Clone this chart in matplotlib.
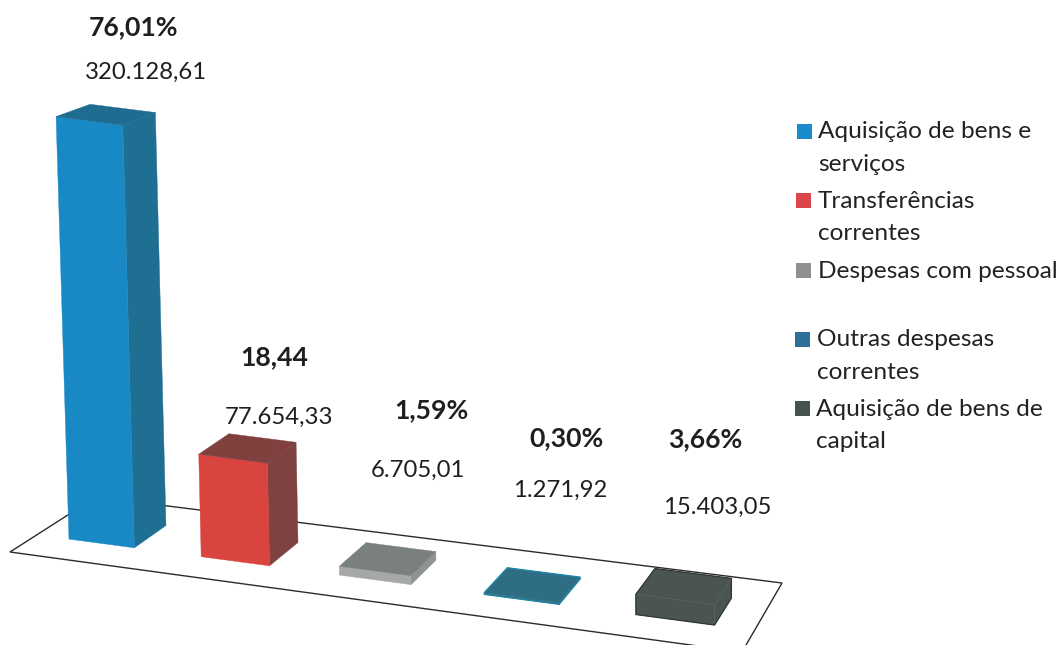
import numpy as np
import matplotlib
matplotlib.use("Agg")
import matplotlib.pyplot as plt
from matplotlib.patches import Polygon, Rectangle

plt.rcParams['font.family'] = ['Lato', 'DejaVu Sans']

categories = ["Aquisição de bens e\nserviços", "Transferências\ncorrentes", "Despesas com pessoal",
              "Outras despesas\ncorrentes", "Aquisição de bens de\ncapital"]
values = [320128.61, 77654.33, 6705.01, 1271.92, 15403.05]
value_labels = ["320.128,61", "77.654,33", "6.705,01", "1.271,92", "15.403,05"]
percent_labels = ["76,01%", "18,44", "1,59%", "0,30%", "3,66%"]

front_colors = ["#1889c4", "#d9443f", "#a6a8a8", "#2f6d85", "#4a5552"]
side_colors = ["#1f6f93", "#7e4340", "#8f9393", "#2f6d85", "#4a5552"]
top_colors = ["#1e6c8f", "#7f403e", "#7a8080", "#2f6d85", "#4a5552"]
edge_colors = ["none", "none", "none", "#1d8aa5", "#2f3634"]
swatch_colors = ["#1a8ccb", "#dc4648", "#8e9090", "#2c7097", "#465250"]

percent_pos = [(134, 27), (274, 357), (431, 410), (567, 438), (705, 439)]
value_pos = [(146, 72), (279, 417), (418, 470), (560, 490), (717, 507)]
legend_y = [131, 200, 270, 339, 408]
legend_sw_x = [797, 796, 796, 795, 795]
legend_tx_x = [818, 818, 818, 817, 816]
line_gap = 32.5

fig = plt.figure(figsize=(10.61, 6.45), dpi=100)
ax = fig.add_axes([0, 0, 1, 1])
ax.set_xlim(0, 1061)
ax.set_ylim(645, 0)
ax.axis("off")

# perspective map of the floor: (u along categories, v depth) -> picture
floor = np.array([(10, 552), (742, 652), (782, 583), (96, 497)], float)
unit = np.array([(0, 0), (1, 0), (1, 1), (0, 1)], float)
A = []
b = []
for (u, v), (x, y) in zip(unit, floor):
    A.append([u, v, 1, 0, 0, 0, -u * x, -v * x]); b.append(x)
    A.append([0, 0, 0, u, v, 1, -u * y, -v * y]); b.append(y)
H = np.append(np.linalg.solve(np.array(A), np.array(b)), 1).reshape(3, 3)


def project(u, v):
    p = H @ np.array([u, v, 1.0])
    return p[:2] / p[2]


def lift(pt, val, depth):
    x, y = pt
    h = val * (0.00132 - 0.00003 * depth)
    return np.array([x + h * (x - 680) / 20000, y - h])


ax.add_patch(Polygon(floor, closed=True, fc="white", ec="#2b2b2b", lw=1.0, zorder=1))

n = len(values)
half_w = 0.05
v0, v1 = 0.297, 0.69
for i, val in enumerate(values):
    c = (i + 0.5) / n
    u0, u1 = c - half_w, c + half_w
    FL, FR = project(u0, v0), project(u1, v0)
    BL, BR = project(u0, v1), project(u1, v1)
    tFL, tFR = lift(FL, val, 0), lift(FR, val, 0)
    tBL, tBR = lift(BL, val, 1), lift(BR, val, 1)
    z = 2 + i
    ax.add_patch(Polygon([FR, BR, tBR, tFR], fc=side_colors[i], ec=side_colors[i], lw=0.3, zorder=z))
    ax.add_patch(Polygon([FL, FR, tFR, tFL], fc=front_colors[i], ec=front_colors[i], lw=0.3, zorder=z))
    ax.add_patch(Polygon([tFL, tFR, tBR, tBL], fc=top_colors[i], ec=top_colors[i], lw=0.3, zorder=z))
    if edge_colors[i] != "none":
        ax.add_patch(Polygon([FL, FR, BR, tBR, tBL, tFL], fc="none", ec=edge_colors[i], lw=0.9, zorder=z))

for lab, (x, y) in zip(percent_labels, percent_pos):
    ax.text(x, y, lab, ha="center", va="center", fontsize=19.2, fontweight="bold", color="#1f1f1f", zorder=10)
for lab, (x, y) in zip(value_labels, value_pos):
    ax.text(x, y, lab, ha="center", va="center", fontsize=17.2, color="#1f1f1f", zorder=10)

for cat, col, y, sx, tx in zip(categories, swatch_colors, legend_y, legend_sw_x, legend_tx_x):
    ax.add_patch(Rectangle((sx, y - 7.5), 15, 15, fc=col, ec="none", zorder=10))
    for k, line in enumerate(cat.split("\n")):
        ax.text(tx, y + 1 + k * line_gap, line, ha="left", va="center", fontsize=17.6, color="#222222", zorder=10)

fig.savefig("out.png", dpi=100)
